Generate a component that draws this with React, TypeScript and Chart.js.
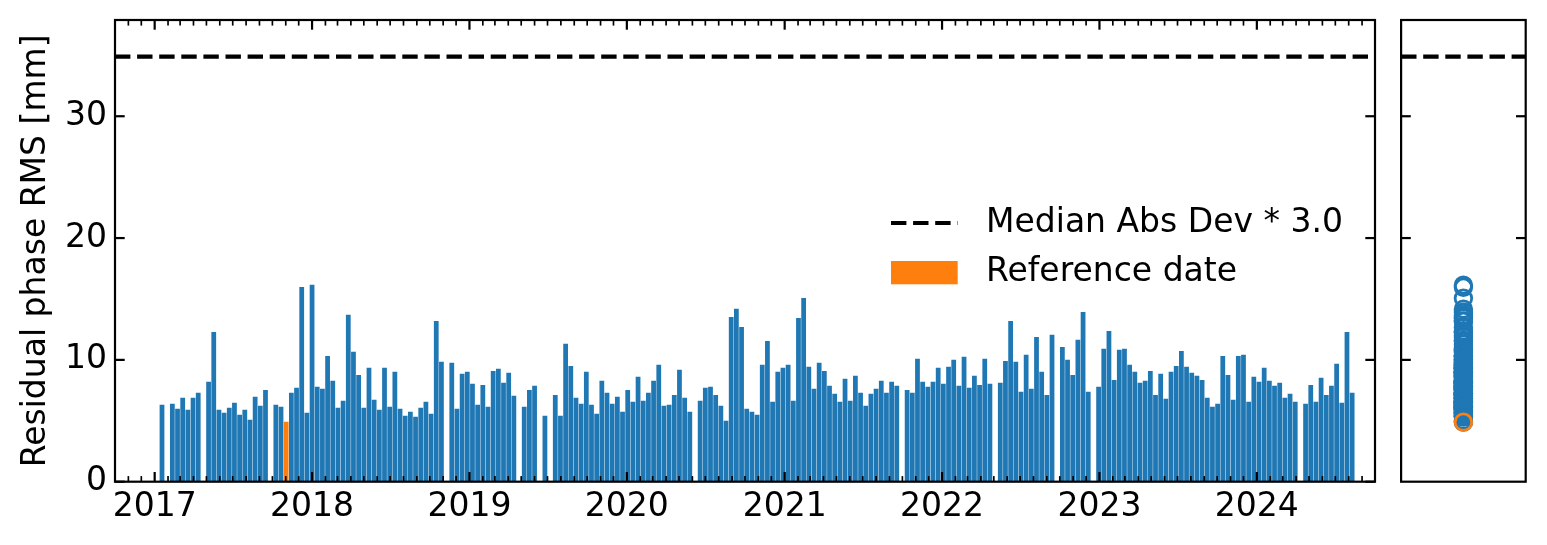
import React, { useEffect, useRef } from 'react';
import { Chart, registerables } from 'chart.js';

Chart.register(...registerables);

// ---------------- data ----------------
const FIRST_ACQUISITION = '2017-01-18';
const REVISIT_DAYS = 12;
const REFERENCE_DATE = '2017-11-02';
// residual phase RMS [mm] per 12-day acquisition slot (null = no acquisition)
const RESIDUAL_RMS: (number | null)[] = [
  6.28, null, 6.37, 5.96, 6.86, 5.87, 6.86, 7.27, null, 8.17,
  12.27, 5.87, 5.63, 6.04, 6.45, 5.46, 5.87, 5.05, 6.94, 6.20,
  7.51, null, 6.28, 6.12, 4.89, 7.27, 7.68, 15.96, 5.63, 16.13,
  7.76, 7.60, 10.30, 8.25, 6.04, 6.61, 13.67, 10.63, 8.74, 6.04,
  9.32, 6.69, 5.87, 9.32, 6.12, 8.99, 5.96, 5.38, 5.71, 5.30,
  6.04, 6.53, 5.55, 13.17, 9.81, null, 9.73, 5.96, 8.83, 8.99,
  8.01, 6.28, 7.92, 6.12, 9.07, 9.24, 8.09, 8.91, 7.02, null,
  6.12, 7.51, 7.84, null, 5.38, null, 7.10, 5.38, 11.29, 9.48,
  6.86, 6.37, 8.99, 6.28, 5.55, 8.25, 7.27, 6.37, 6.94, 5.71,
  7.51, 6.53, 8.58, 6.61, 7.27, 8.25, 9.57, 6.20, 6.28, 7.10,
  9.16, 6.86, 5.71, null, 6.61, 7.68, 7.76, 7.10, 6.20, 4.97,
  13.50, 14.16, 12.68, 5.96, 5.71, 5.46, 9.57, 11.53, 6.53, 8.99,
  9.32, 9.57, 6.61, 13.42, 15.06, 9.40, 7.60, 9.73, 9.07, 7.84,
  7.19, 6.53, 8.42, 6.61, 8.66, 7.27, 6.20, 7.19, 7.60, 8.25,
  7.27, 8.17, 7.84, null, 7.51, 7.27, 10.06, 8.17, 7.76, 8.17,
  9.32, 8.01, 9.40, 9.98, 7.84, 10.22, 7.68, 8.66, 7.92, 10.06,
  8.01, null, 8.09, 9.89, 13.17, 9.81, 7.35, 10.39, 7.60, 11.86,
  8.99, 7.10, 12.03, null, 11.04, 9.98, 8.74, 11.62, 13.91, 7.35,
  null, 7.76, 10.88, 12.35, 8.33, 10.80, 10.88, 9.57, 8.99, 8.09,
  8.25, 9.07, 7.10, 8.83, 6.78, 8.99, 9.48, 10.71, 9.40, 8.91,
  8.66, 8.33, 6.86, 6.12, 6.37, 10.30, 8.74, 6.69, 10.30, 10.39,
  6.53, 8.58, 8.17, 9.32, 8.25, 7.84, 8.09, 6.86, 7.19, 6.53,
  null, 6.37, 7.92, 6.53, 8.50, 7.10, 7.84, 9.65, 6.45, 12.27,
  7.27,
];
const THRESHOLD = 34.9; // Median Abs Dev * 3.0
const X_RANGE = ['2016-10-01', '2024-10-01'];
const YEAR_TICKS = [2017, 2018, 2019, 2020, 2021, 2022, 2023, 2024];
const Y_TICKS = [0, 10, 20, 30];
const Y_MAX = 37.9;
const LEGEND_LABELS = ['Median Abs Dev * 3.0', 'Reference date'];
const Y_TITLE = 'Residual phase RMS [mm]';

// ---------------- styles ----------------
const BLUE = '#1f77b4';
const ORANGE = '#ff7f0e';
const FONT = 'DejaVu Sans';
const FS = 33;
const DASH = [15.4, 6.7];
const DAY = 86400000;
const toMs = (s: string) => Date.parse(s + 'T00:00:00Z');

function drawTicks(chart: any, cfg: { xMajor: number[]; xMinor: number[]; yMajor: number[] }) {
  const { ctx, chartArea: a, scales } = chart;
  const xs = scales.x, ys = scales.y;
  ctx.save();
  ctx.strokeStyle = '#000';
  ctx.lineCap = 'butt';
  const seg = (x1: number, y1: number, x2: number, y2: number, w: number) => {
    ctx.lineWidth = w;
    ctx.beginPath();
    ctx.moveTo(x1, y1);
    ctx.lineTo(x2, y2);
    ctx.stroke();
  };
  const MAJ = 9.7, MIN = 5.6, WMAJ = 2.2, WMIN = 1.67;
  cfg.xMinor.forEach((v) => {
    const x = xs.getPixelForValue(v);
    if (x <= a.left + 1 || x >= a.right - 1) return;
    seg(x, a.bottom, x, a.bottom - MIN, WMIN);
    seg(x, a.top, x, a.top + MIN, WMIN);
  });
  cfg.xMajor.forEach((v) => {
    const x = xs.getPixelForValue(v);
    seg(x, a.bottom, x, a.bottom - MAJ, WMAJ);
    seg(x, a.top, x, a.top + MAJ, WMAJ);
  });
  cfg.yMajor.forEach((v) => {
    const y = ys.getPixelForValue(v);
    seg(a.left, y, a.left + MAJ, y, WMAJ);
    seg(a.right, y, a.right - MAJ, y, WMAJ);
  });
  ctx.lineWidth = 2.2;
  ctx.strokeRect(a.left, a.top, a.right - a.left, a.bottom - a.top);
  ctx.restore();
}

export default function App() {
  const mainRef = useRef<HTMLCanvasElement | null>(null);
  const sideRef = useRef<HTMLCanvasElement | null>(null);

  useEffect(() => {
    document.body.style.margin = '0';
    Chart.defaults.font.family = FONT;
    Chart.defaults.color = '#000';

    const t0 = toMs(FIRST_ACQUISITION);
    const refMs = toMs(REFERENCE_DATE);
    const xMin = toMs(X_RANGE[0]);
    const xMax = toMs(X_RANGE[1]);

    const points: { x: number; y: number }[] = [];
    RESIDUAL_RMS.forEach((v, i) => {
      if (v !== null) points.push({ x: t0 + i * REVISIT_DAYS * DAY, y: v });
    });
    const colors = points.map((p) => (Math.abs(p.x - refMs) < DAY / 2 ? ORANGE : BLUE));
    const refPoint = points.find((p) => Math.abs(p.x - refMs) < DAY / 2);

    const monthTicks: number[] = [];
    for (let y = 2016; y <= 2024; y++) {
      for (let m = 0; m < 12; m++) {
        const t = Date.UTC(y, m, 1);
        if (t > xMin && t < xMax && m !== 0) monthTicks.push(t);
      }
    }
    const yearTicks = YEAR_TICKS.map((y) => Date.UTC(y, 0, 1));

    const mainPlugin = {
      id: 'mainDecor',
      afterDraw(chart: any) {
        drawTicks(chart, { xMajor: yearTicks, xMinor: monthTicks, yMajor: Y_TICKS });
        const { ctx } = chart;
        ctx.save();
        // legend
        ctx.strokeStyle = '#000';
        ctx.lineWidth = 4.2;
        ctx.setLineDash(DASH);
        ctx.beginPath();
        ctx.moveTo(891, 223);
        ctx.lineTo(957.7, 223);
        ctx.stroke();
        ctx.setLineDash([]);
        ctx.fillStyle = ORANGE;
        ctx.fillRect(891, 261, 66.7, 23.3);
        ctx.fillStyle = '#000';
        ctx.font = `${FS}px "${FONT}"`;
        ctx.textBaseline = 'middle';
        ctx.textAlign = 'left';
        ctx.fillText(LEGEND_LABELS[0], 986, 223);
        ctx.fillText(LEGEND_LABELS[1], 986, 272.8);
        ctx.restore();
      },
    };

    const main = new Chart(mainRef.current as HTMLCanvasElement, {
      type: 'bar',
      data: {
        datasets: [
          {
            type: 'bar',
            label: 'Residual phase RMS',
            data: points as any,
            backgroundColor: colors,
            borderWidth: 0,
            barThickness: 4.1,
            order: 2,
          } as any,
          {
            type: 'line',
            label: LEGEND_LABELS[0],
            data: [
              { x: xMin, y: THRESHOLD },
              { x: xMax, y: THRESHOLD },
            ],
            borderColor: '#000',
            borderWidth: 4.2,
            borderDash: DASH,
            pointRadius: 0,
            fill: false,
            order: 1,
          } as any,
        ],
      },
      options: {
        animation: false,
        responsive: false,
        devicePixelRatio: 1,
        layout: { padding: { left: 0, top: 20, right: 15, bottom: 0 } },
        plugins: { legend: { display: false }, tooltip: { enabled: false } },
        scales: {
          x: {
            type: 'linear',
            min: xMin,
            max: xMax,
            offset: false,
            grid: { display: false, drawTicks: false },
            border: { display: false },
            ticks: {
              color: '#000',
              font: { size: FS, family: FONT, lineHeight: 1.2 },
              padding: 6,
              maxRotation: 0,
              autoSkip: false,
              callback: (v: any) => String(new Date(Number(v)).getUTCFullYear()),
            },
            afterBuildTicks: (s: any) => {
              s.ticks = yearTicks.map((value) => ({ value }));
            },
            afterFit: (s: any) => {
              s.height = 63.3;
              s.paddingLeft = 0;
              s.paddingRight = 0;
            },
          },
          y: {
            type: 'linear',
            min: 0,
            max: Y_MAX,
            grid: { display: false, drawTicks: false },
            border: { display: false },
            ticks: { color: '#000', font: { size: FS, family: FONT }, padding: 8 },
            afterBuildTicks: (s: any) => {
              s.ticks = Y_TICKS.map((value) => ({ value }));
            },
            title: {
              display: true,
              text: Y_TITLE,
              color: '#000',
              font: { size: FS, family: FONT, lineHeight: 1.2 },
              padding: { top: 17, bottom: 0 },
            },
            afterFit: (s: any) => {
              s.width = 115;
              s.paddingTop = 0;
              s.paddingBottom = 0;
            },
          },
        },
      } as any,
      plugins: [mainPlugin],
    });

    const sidePlugin = {
      id: 'sideDecor',
      afterDraw(chart: any) {
        drawTicks(chart, { xMajor: [], xMinor: [], yMajor: Y_TICKS.slice(1) });
      },
    };

    const side = new Chart(sideRef.current as HTMLCanvasElement, {
      type: 'scatter',
      data: {
        datasets: [
          {
            label: 'reference',
            data: refPoint ? [{ x: 0, y: refPoint.y }] : [],
            borderColor: ORANGE,
            backgroundColor: 'rgba(0,0,0,0)',
            pointRadius: 8.3,
            borderWidth: 2.8,
            order: 0,
          },
          {
            type: 'line',
            label: LEGEND_LABELS[0],
            data: [
              { x: -1, y: THRESHOLD },
              { x: 1, y: THRESHOLD },
            ],
            borderColor: '#000',
            borderWidth: 4.2,
            borderDash: DASH,
            pointRadius: 0,
            fill: false,
            order: 1,
          } as any,
          {
            label: 'all',
            data: points.map((p) => ({ x: 0, y: p.y })),
            borderColor: BLUE,
            backgroundColor: 'rgba(0,0,0,0)',
            pointRadius: 8.3,
            borderWidth: 2.8,
            order: 2,
          },
        ],
      },
      options: {
        animation: false,
        responsive: false,
        devicePixelRatio: 1,
        layout: { padding: { left: 10, top: 20, right: 21.3, bottom: 63.3 } },
        plugins: { legend: { display: false }, tooltip: { enabled: false } },
        scales: {
          x: { type: 'linear', display: false, min: -1, max: 1 },
          y: { type: 'linear', display: false, min: 0, max: Y_MAX },
        },
      } as any,
      plugins: [sidePlugin],
    });

    return () => {
      main.destroy();
      side.destroy();
    };
  }, []);

  return (
    <div style={{ position: 'absolute', left: 0, top: 0, width: 1547, height: 545, background: '#fff' }}>
      <canvas
        ref={mainRef}
        width={1390}
        height={545}
        style={{ position: 'absolute', left: 0, top: 0, width: 1390, height: 545 }}
      />
      <canvas
        ref={sideRef}
        width={157}
        height={545}
        style={{ position: 'absolute', left: 1390, top: 0, width: 157, height: 545 }}
      />
    </div>
  );
}
